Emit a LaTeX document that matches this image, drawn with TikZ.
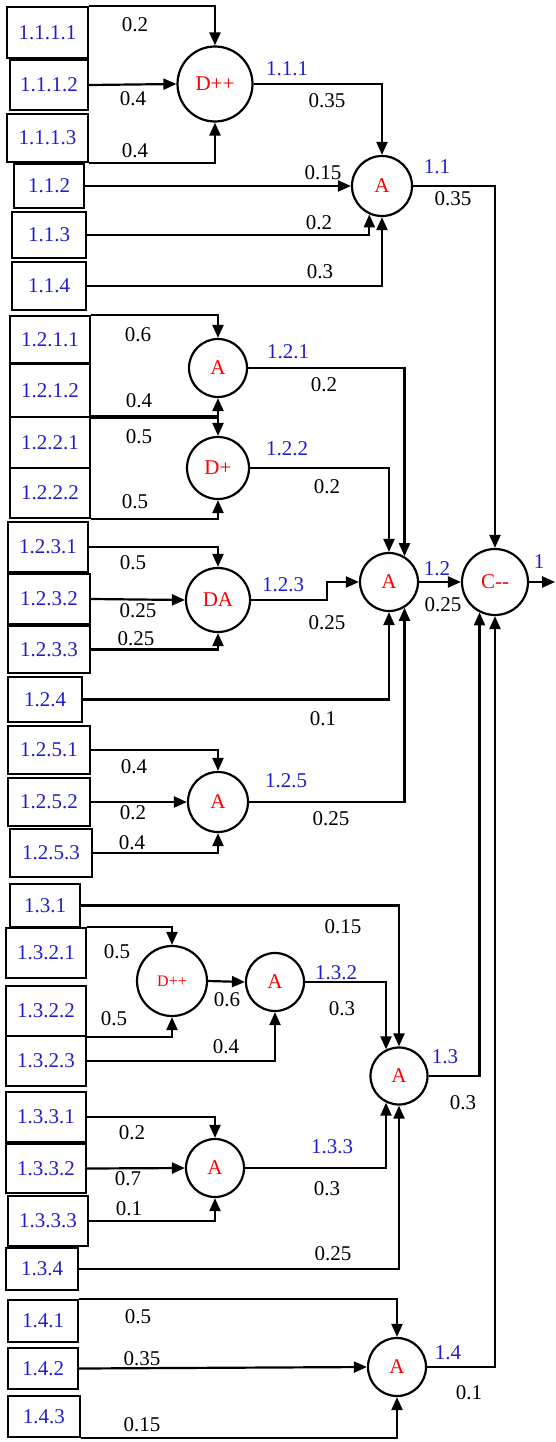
\documentclass[tikz,border=0pt]{standalone}
\usepackage{fontspec}
\setmainfont{Liberation Serif}
\usetikzlibrary{arrows.meta}
\definecolor{lblblue}{RGB}{30,30,205}
\definecolor{opred}{RGB}{255,0,0}
\newcommand\mybox[6]{\node[box, minimum width=#4pt, minimum height=#5pt] (#1) at (#2,#3) {#6};}
\newcommand\myop[5]{\node[op, minimum size=#4pt] (#1) at (#2,#3) {#5};}
\begin{document}
\begin{tikzpicture}[x=1pt,y=-1pt,
  box/.style={draw, line width=2.2pt, inner sep=0pt, text=lblblue, font=\fontsize{21}{23}\selectfont},
  op/.style={draw, circle, line width=2.2pt, inner sep=0pt, text=opred, font=\fontsize{21}{23}\selectfont},
  conn/.style={line width=2.2pt, -{Triangle[length=13pt,width=11pt]}},
  wt/.style={font=\fontsize{21}{23}\selectfont, text=black, inner sep=0pt},
  nm/.style={font=\fontsize{21}{23}\selectfont, text=lblblue, inner sep=0pt}]
\useasboundingbox (0,0) rectangle (555,1442);
% ---------- boxes ----------
\mybox{b1111}{47.5}{32.5}{81}{51}{1.1.1.1}
\mybox{b1112}{49}{85}{78}{50}{1.1.1.2}
\mybox{b1113}{47.5}{138}{81}{48}{1.1.1.3}
\mybox{b112}{49}{186}{70}{44}{1.1.2}
\mybox{b113}{49}{235}{74}{46}{1.1.3}
\mybox{b114}{49}{286}{74}{48}{1.1.4}
\mybox{b1211}{50}{339.5}{80}{47}{1.2.1.1}
\mybox{b1212}{50}{390.5}{80}{53}{1.2.1.2}
\mybox{b1221}{50}{442.5}{80}{51}{1.2.2.1}
\mybox{b1222}{50}{493}{80}{50}{1.2.2.2}
\mybox{b1231}{48}{547}{80}{50}{1.2.3.1}
\mybox{b1232}{49}{599}{82}{50}{1.2.3.2}
\mybox{b1233}{49}{649.5}{82}{47}{1.2.3.3}
\mybox{b124}{45}{699.5}{74}{45}{1.2.4}
\mybox{b1251}{49}{750}{82}{48}{1.2.5.1}
\mybox{b1252}{49}{802}{82}{48}{1.2.5.2}
\mybox{b1253}{51}{853}{82}{48}{1.2.5.3}
\mybox{b131}{45}{905.5}{70}{43}{1.3.1}
\mybox{b1321}{46}{953}{80}{50}{1.3.2.1}
\mybox{b1322}{46}{1011}{80}{50}{1.3.2.2}
\mybox{b1323}{46}{1061}{80}{50}{1.3.2.3}
\mybox{b1331}{46}{1117}{80}{50}{1.3.3.1}
\mybox{b1332}{46}{1168.5}{80}{49}{1.3.3.2}
\mybox{b1333}{48}{1221}{80}{50}{1.3.3.3}
\mybox{b134}{42}{1269}{72}{42}{1.3.4}
\mybox{b141}{43}{1321}{70}{42}{1.4.1}
\mybox{b142}{43}{1368.5}{70}{41}{1.4.2}
\mybox{b143}{44}{1416.5}{72}{41}{1.4.3}
% ---------- operators ----------
\myop{dpp1}{215}{84}{75}{D++}
\myop{a11}{382}{186}{60}{A}
\myop{a121}{218}{368}{58}{A}
\myop{dp122}{218}{468}{62}{D+}
\myop{a12}{389}{582}{58}{A}
\myop{cmm}{495}{582}{66}{C-{}-}
\myop{da123}{218}{600}{64}{DA}
\myop{a125}{218}{802}{60}{A}
\node[op, minimum size=70pt, font=\fontsize{16}{18}\selectfont] (dpp132) at (172,981) {D++};
\myop{a132}{275}{982}{58}{A}
\myop{a13}{399}{1076}{57}{A}
\myop{a133}{215}{1168}{58}{A}
\myop{a14}{397}{1367}{58}{A}
% ---------- connectors ----------
\draw[conn] (b1111.north east) -| (dpp1.north);
\draw[conn] (b1112.east) -- (dpp1.west);
\draw[conn] (b1113.south east) -| (dpp1.south);
\draw[conn] (dpp1.east) -| (a11.north);
\draw[conn] (b112.east) -- (a11.west);
\draw[conn] (b113.east) -| (a11.-114);
\draw[conn] (b114.east) -| (a11.south);
\draw[conn] (a11.east) -| (cmm.north);
\draw[conn] (b1211.north east) -| (a121.north);
\draw[conn] (b1212.south east) -| (a121.south);
\draw[conn] (b1221.north east) -| (dp122.north);
\draw[conn] (b1222.south east) -| (dp122.south);
\draw[conn] (a121.east) -| (a12.59);
\draw[conn] (dp122.east) -| (a12.north);
\draw[conn] (b1231.east) -| (da123.north);
\draw[conn] (b1232.east) -- (da123.west);
\draw[conn] (b1233.east) -| (da123.south);
\draw[conn] (da123.east) -- ++(76,0) |- (a12.west);
\draw[conn] (b124.east) -| (a12.south);
\draw[conn] (b1251.east) -| (a125.north);
\draw[conn] (b1252.east) -- (a125.west);
\draw[conn] (b1253.east) -| (a125.south);
\draw[conn] (a125.east) -| (a12.-59);
\draw[conn] (a12.east) -- (cmm.west);
\draw[conn] (cmm.east) -- ++(26,0) coordinate (out);
\draw[conn] (b131.east) -| (a13.north);
\draw[conn] (b1321.north east) -| (dpp132.north);
\draw[conn] (b1322.south east) -| (dpp132.south);
\draw[conn] (dpp132.east) -- (a132.west);
\draw[conn] (b1323.east) -| (a132.south);
\draw[conn] (a132.east) -| (a13.116);
\draw[conn] (b1331.east) -| (a133.north);
\draw[conn] (b1332.east) -- (a133.west);
\draw[conn] (b1333.east) -| (a133.south);
\draw[conn] (a133.east) -| (a13.-116);
\draw[conn] (b134.east) -| (a13.south);
\draw[conn] (a13.east) -| (cmm.-117);
\draw[conn] (b141.north east) -| (a14.north);
\draw[conn] (b142.east) -- (a14.west);
\draw[conn] (b143.south east) -| (a14.south);
\draw[conn] (a14.east) -| (cmm.south);
% ---------- weights ----------
\node[wt] (w1) at (135,25) {0.2};
\node[wt] (w2) at (133,99) {0.4};
\node[wt] (w3) at (135,151) {0.4};
\node[wt] (w4) at (327,101) {0.35};
\node[wt] (w5) at (323,173) {0.15};
\node[wt] (w6) at (319,223) {0.2};
\node[wt] (w7) at (320,272) {0.3};
\node[wt] (w8) at (453,199) {0.35};
\node[wt] (w9) at (138,335) {0.6};
\node[wt] (w10) at (139,401) {0.4};
\node[wt] (w11) at (139,437) {0.5};
\node[wt] (w12) at (135,502) {0.5};
\node[wt] (w13) at (324,385) {0.2};
\node[wt] (w14) at (327,487) {0.2};
\node[wt] (w15) at (443,605) {0.25};
\node[wt] (w16) at (133,563) {0.5};
\node[wt] (w17) at (138,611) {0.25};
\node[wt] (w18) at (136,639) {0.25};
\node[wt] (w19) at (327,623) {0.25};
\node[wt] (w20) at (323,719) {0.1};
\node[wt] (w21) at (134,767) {0.4};
\node[wt] (w22) at (133,813) {0.2};
\node[wt] (w23) at (132,843) {0.4};
\node[wt] (w24) at (331,819) {0.25};
\node[wt] (w25) at (343,927) {0.15};
\node[wt] (w26) at (117,952) {0.5};
\node[wt] (w27) at (114,1019) {0.5};
\node[wt] (w28) at (227,1000) {0.6};
\node[wt] (w29) at (226,1047) {0.4};
\node[wt] (w30) at (342,1009) {0.3};
\node[wt] (w31) at (463,1103) {0.3};
\node[wt] (w32) at (132,1133) {0.2};
\node[wt] (w33) at (128,1179) {0.7};
\node[wt] (w34) at (129,1209) {0.1};
\node[wt] (w35) at (327,1189) {0.3};
\node[wt] (w36) at (333,1254) {0.25};
\node[wt] (w37) at (138,1317) {0.5};
\node[wt] (w38) at (142,1359) {0.35};
\node[wt] (w39) at (142,1425) {0.15};
\node[wt] (w40) at (469,1393) {0.1};
% ---------- output names ----------
\node[nm] (n1) at (287,69) {1.1.1};
\node[nm] (n2) at (437,167) {1.1};
\node[nm] (n3) at (288,352) {1.2.1};
\node[nm] (n4) at (287,449) {1.2.2};
\node[nm] (n5) at (283,585) {1.2.3};
\node[nm] (n6) at (437,569) {1.2};
\node[nm] (n7) at (539,562) {1};
\node[nm] (n8) at (286,781) {1.2.5};
\node[nm] (n9) at (336,973) {1.3.2};
\node[nm] (n10) at (445,1057) {1.3};
\node[nm] (n11) at (332,1147) {1.3.3};
\node[nm] (n12) at (448,1353) {1.4};
\end{tikzpicture}
\end{document}
